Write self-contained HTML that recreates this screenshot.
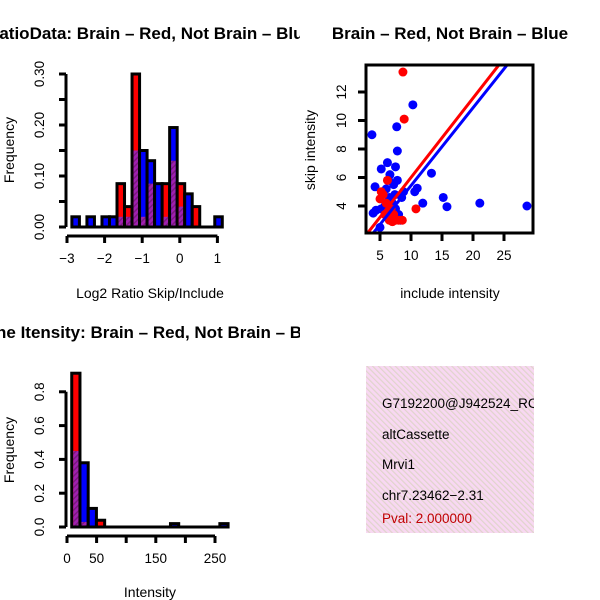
<!DOCTYPE html>
<html><head><meta charset="utf-8"><style>
html,body{margin:0;padding:0;background:#fff;}
svg{display:block;font-family:"Liberation Sans",sans-serif;}
</style></head><body>
<svg id="chart" width="600" height="600" viewBox="0 0 600 600">
<defs>
<clipPath id="cl"><rect x="0" y="0" width="300" height="600"/></clipPath>
<clipPath id="cs"><rect x="366" y="65" width="167" height="168"/></clipPath>
<clipPath id="ct"><rect x="366" y="366" width="168" height="167"/></clipPath>
<pattern id="hatch" width="4" height="4" patternUnits="userSpaceOnUse" patternTransform="rotate(45)">
<rect width="4" height="4" fill="#a020b0"/><rect width="1.5" height="4" fill="#7a1a80"/></pattern>
<pattern id="pink" width="4" height="4" patternUnits="userSpaceOnUse" patternTransform="rotate(-45)">
<rect width="4" height="4" fill="#f8d8f2"/><rect width="1.2" height="4" fill="#e0d4cc"/></pattern>
</defs>
<g id="p1" clip-path="url(#cl)"></g>
<g id="p2"></g>
<g id="p3" clip-path="url(#cl)"></g>
<g>
<rect x="366" y="366" width="168" height="167" fill="url(#pink)"/>
<g clip-path="url(#ct)" font-size="13.5">
<text x="382" y="408">G7192200@J942524_RC</text>
<text x="382" y="439">altCassette</text>
<text x="382" y="469">Mrvi1</text>
<text x="382" y="500">chr7.23462−2.31</text>
<text x="382" y="523" fill="#c00000">Pval: 2.000000</text>
</g></g>
</svg>
<script>
// ---- Histogram 1 data (Log2 ratio) ----
const ratioBinStart = -2.87;
const ratioBinWidth = 0.2;
const ratioRed  = [0,0,0,0,0,0,0.085,0.04,0.30,0.02,0.085,0,0.085,0.13,0.085,0,0.04,0,0,0];
const ratioBlue = [0.02,0,0.02,0,0.02,0.02,0.02,0.02,0.15,0.15,0.13,0.085,0.02,0.195,0.04,0.065,0,0,0,0.02];
const ratioXTicks = [-3,-2,-1,0,1];
const ratioYTicks = ["0.00","0.10","0.20","0.30"];
const ratioYTickVals = [0,0.05,0.10,0.15,0.20,0.25,0.30];
// ---- Histogram 2 data (Intensity) ----
const intBinStart = 8;
const intBinWidth = 13.9;
const intRed  = [0.91,0.03,0,0.04,0,0,0,0,0,0,0,0,0,0,0,0,0,0,0];
const intBlue = [0.45,0.38,0.11,0,0,0,0,0,0,0,0,0,0.02,0,0,0,0,0,0.02];
const intXTicks = [0,50,100,150,200,250];
const intXLabels = ["0","50","","150","","250"];
const intYTicks = [0,0.2,0.4,0.6,0.8];
// ---- Scatter data ----
const blueX = [3.7,10.3,7.7,7.8,6.2,5.2,7.5,6.6,13.3,4.2,15.2,15.8,21.1,28.7,11.9,11.0,10.6,4.35,3.9,5.0,6,6.5,7,7.5,8,8.5,7.2,6.8,5.8,7.8,8.3,6.2,5.5,8.8,7.4,6.4,5.2];
const blueY = [9.0,11.1,9.56,7.86,7.04,6.6,6.75,6.2,6.3,5.35,4.6,3.95,4.2,4.0,4.2,5.25,5.0,3.7,3.5,2.5,5.2,4.6,4.2,3.8,3.4,4.6,5.5,3.6,4.0,5.8,3.0,3.2,4.8,5.0,4.8,5.8,3.8];
const redX = [8.7,8.9,10.8,5,5.5,6,5.8,6.5,7,7.5,8,8.6,6.2,5.2,6.8,7.2];
const redY = [13.4,10.1,3.8,4.5,4.8,4.2,3.4,3.0,2.9,3.0,3.0,3.0,5.8,5.0,3.8,3.4];
const redFit = [0.43,0.557];   // intercept, slope
const blueFit = [-0.03,0.546];
const scatXTicks = [5,10,15,20,25];
const scatYTicks = [4,6,8,10,12];

const NS="http://www.w3.org/2000/svg";
const TICK=13.5, LAB=14, TTL=17;
function mk(parent,tag,attrs){const e=document.createElementNS(NS,tag);for(const k in attrs)e.setAttribute(k,attrs[k]);parent.appendChild(e);return e;}
function txt(parent,x,y,s,attrs){const e=mk(parent,'text',Object.assign({x:x,y:y,'text-anchor':'middle'},attrs||{}));e.textContent=s;return e;}

function hist(g,opt){
  const X=v=>opt.x0+(v-opt.v0)*opt.kx, Y=v=>opt.y0-v*opt.ky;
  opt.red.forEach((r,i)=>{
    const b=opt.blue[i], mx=Math.max(r,b), mn=Math.min(r,b);
    if(mx<=0) return;
    const xa=X(opt.bs+i*opt.bw), xb=X(opt.bs+(i+1)*opt.bw);
    const bar=mk(g,'rect',{x:xa,y:Y(mx),width:xb-xa,height:Y(0)-Y(mx),fill:r>=b?'#ff0000':'#0000ff',stroke:'#000','stroke-width':3});
    
    
    if(mn>0){const ov=mk(g,'rect',{x:xa+1.5,y:Y(mn),width:xb-xa-3,height:Y(0)-Y(mn),fill:'url(#hatch)'});
      
      }
  });
  const bl=mk(g,'line',{x1:X(opt.bs),x2:X(opt.bs+opt.red.length*opt.bw),y1:Y(0),y2:Y(0),stroke:'#000','stroke-width':3});
  
  
  const xa=mk(g,'g',{});
  
  
  const ay=opt.y0+9;
  mk(xa,'line',{x1:X(opt.xt[0]),x2:X(opt.xt[opt.xt.length-1]),y1:ay,y2:ay,stroke:'#000','stroke-width':3});
  opt.xt.forEach((t,i)=>{mk(xa,'line',{x1:X(t),x2:X(t),y1:ay,y2:ay+7,stroke:'#000','stroke-width':3});
    txt(xa,X(t),ay+27,opt.xl[i],{'font-size':TICK});});
  const ya=mk(g,'g',{});
  
  
  const yx=66;
  mk(ya,'line',{x1:yx,x2:yx,y1:Y(0),y2:Y(opt.yt[opt.yt.length-1]),stroke:'#000','stroke-width':3});
  opt.yt.forEach(t=>mk(ya,'line',{x1:yx,x2:yx-7,y1:Y(t),y2:Y(t),stroke:'#000','stroke-width':3}));
  opt.ylv.forEach((t,i)=>{txt(ya,0,0,opt.yl[i],{'font-size':TICK,transform:`translate(${yx-22},${Y(t)}) rotate(-90)`});});
}
const p1=document.getElementById('p1');
hist(p1,{x0:67,v0:-3,kx:37.6,y0:227,ky:510,bs:ratioBinStart,bw:ratioBinWidth,red:ratioRed,blue:ratioBlue,
  xt:ratioXTicks,xl:ratioXTicks.map(String).map(s=>s.replace('-','\u2212')),yt:ratioYTickVals,ylv:[0,0.1,0.2,0.3],yl:ratioYTicks});
const t1=txt(p1,150,39,'RatioData: Brain \u2013 Red, Not Brain \u2013 Blue',{'font-size':TTL,'font-weight':'bold'});

const l1=txt(p1,150,298,'Log2 Ratio Skip/Include',{'font-size':LAB});

const f1=txt(p1,0,0,'Frequency',{'font-size':LAB,transform:'translate(14,150) rotate(-90)'});


const p3=document.getElementById('p3');
hist(p3,{x0:67,v0:0,kx:0.592,y0:527,ky:169,bs:intBinStart,bw:intBinWidth,red:intRed,blue:intBlue,
  xt:intXTicks,xl:intXLabels,yt:intYTicks,ylv:intYTicks,yl:intYTicks.map(v=>v.toFixed(1))});
const t3=txt(p3,150,338,'Gene Itensity: Brain \u2013 Red, Not Brain \u2013 Blue',{'font-size':TTL,'font-weight':'bold'});

const l3=txt(p3,150,597,'Intensity',{'font-size':LAB});

const f3=txt(p3,0,0,'Frequency',{'font-size':LAB,transform:'translate(14,450) rotate(-90)'});


// scatter
const p2=document.getElementById('p2');
const SX=v=>380+(v-5)*6.2, SY=v=>206-(v-4)*14.25;
const pts=mk(p2,'g',{'clip-path':'url(#cs)'});
blueX.forEach((x,i)=>{const c=mk(pts,'circle',{cx:SX(x),cy:SY(blueY[i]),r:4.5,fill:'#0000ff'});
  });
redX.forEach((x,i)=>{const c=mk(pts,'circle',{cx:SX(x),cy:SY(redY[i]),r:4.5,fill:'#ff0000'});
  });
[[blueFit,'#0000ff'],[redFit,'#ff0000']].forEach(([f,col])=>{
  const ln=mk(pts,'line',{x1:SX(0),y1:SY(f[0]),x2:SX(30),y2:SY(f[0]+f[1]*30),stroke:col,'stroke-width':3});
  });
const box=mk(p2,'rect',{x:366,y:65,width:167,height:168,fill:'none',stroke:'#000','stroke-width':3});

const sxa=mk(p2,'g',{});
scatXTicks.forEach(t=>{mk(sxa,'line',{x1:SX(t),x2:SX(t),y1:233,y2:241,stroke:'#000','stroke-width':3});txt(sxa,SX(t),260,String(t),{'font-size':TICK});});
const sya=mk(p2,'g',{});
scatYTicks.forEach(t=>{mk(sya,'line',{x1:366,x2:358,y1:SY(t),y2:SY(t),stroke:'#000','stroke-width':3});txt(sya,0,0,String(t),{'font-size':TICK,transform:`translate(346,${SY(t)}) rotate(-90)`});});
const t2=txt(p2,450,39,'Brain \u2013 Red, Not Brain \u2013 Blue',{'font-size':TTL,'font-weight':'bold'});

const l2=txt(p2,450,298,'include intensity',{'font-size':LAB});

const f2=txt(p2,0,0,'skip intensity',{'font-size':LAB,transform:'translate(315,150) rotate(-90)'});

</script>
</body></html>
